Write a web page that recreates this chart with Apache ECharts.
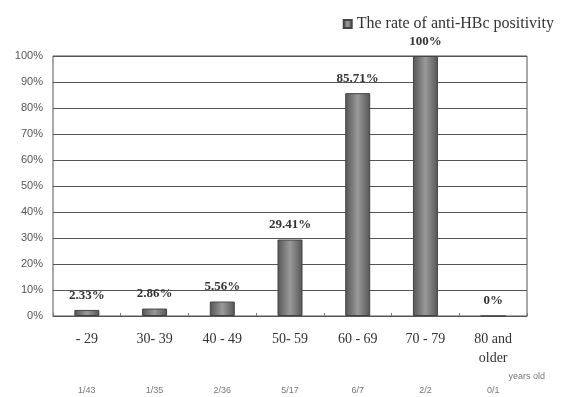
<!DOCTYPE html>
<html>
<head>
<meta charset="utf-8">
<script src="https://cdn.jsdelivr.net/npm/echarts@6/dist/echarts.min.js"></script>
<style>
  html, body { margin: 0; padding: 0; background: #fff; }
  #chart { width: 561px; height: 397px; }
</style>
</head>
<body>
<div id="chart"></div>
<script>
// age groups and positivity
const categories = ['- 29', '30- 39', '40 - 49', '50- 59', '60 - 69', '70 - 79', '80 and\nolder']
const rates = [2.33, 2.86, 5.56, 29.41, 85.71, 100, 0]
const rateLabels = ['2.33%', '2.86%', '5.56%', '29.41%', '85.71%', '100%', '0%']
const counts = ['1/43', '1/35', '2/36', '5/17', '6/7', '2/2', '0/1']
const yTicks = [0, 10, 20, 30, 40, 50, 60, 70, 80, 90, 100]

const serif = '"Liberation Serif", "DejaVu Serif", serif'
const sans = '"Liberation Sans", "DejaVu Sans", sans-serif'

const chart = echarts.init(document.getElementById('chart'))
chart.setOption({
  animation: false,
  grid: {
    left: 53,
    right: 34,
    top: 56,
    bottom: 81,
    show: true,
    borderColor: '#555',
    borderWidth: 1
  },
  legend: {
    right: 2,
    top: 11,
    icon: 'rect',
    itemWidth: 8, // 图例方块
    itemHeight: 8,
    itemGap: 5,
    textStyle: { fontFamily: serif, fontSize: 16, color: '#333' },
    data: ['The rate of anti-HBc positivity']
  },
  xAxis: [
    {
      type: 'category',
      data: categories,
      axisLine: { lineStyle: { color: '#555' } },
      axisTick: { show: true, inside: true, length: 3, lineStyle: { color: '#777' } },
      axisLabel: {
        margin: 14,
        fontFamily: serif,
        fontSize: 14,
        color: '#333',
        lineHeight: 19
      }
    },
    {
      type: 'category',
      position: 'bottom',
      offset: 62,
      data: counts,
      axisLine: { show: false },
      axisTick: { show: false },
      axisLabel: { fontFamily: sans, fontSize: 9, color: '#777' }
    }
  ],
  yAxis: {
    type: 'value',
    min: yTicks[0],
    max: yTicks[yTicks.length - 1],
    interval: 10,
    axisLine: { show: false },
    axisTick: { show: false },
    axisLabel: {
      margin: 10,
      fontFamily: sans,
      fontSize: 11,
      color: '#555',
      formatter: '{value}%'
    },
    splitLine: { lineStyle: { color: '#555', width: 1 } }
  },
  series: [
    {
      name: 'The rate of anti-HBc positivity',
      type: 'bar',
      data: rates,
      barWidth: 25,
      itemStyle: {
        color: new echarts.graphic.LinearGradient(0, 0, 1, 0, [
          { offset: 0, color: '#555' },
          { offset: 0.5, color: '#9a9a9a' },
          { offset: 1, color: '#555' }
        ]),
        borderColor: '#444',
        borderWidth: 1
      },
      label: {
        show: true,
        position: 'top',
        distance: 8,
        fontFamily: serif,
        fontWeight: 'bold',
        fontSize: 13,
        color: '#333',
        formatter: p => rateLabels[p.dataIndex]
      }
    }
  ],
  graphic: [
    {
      type: 'text',
      right: 16,
      top: 372,
      style: { text: 'years old', fontFamily: sans, fontSize: 9, fill: '#777' }
    }
  ]
})
</script>
</body>
</html>
